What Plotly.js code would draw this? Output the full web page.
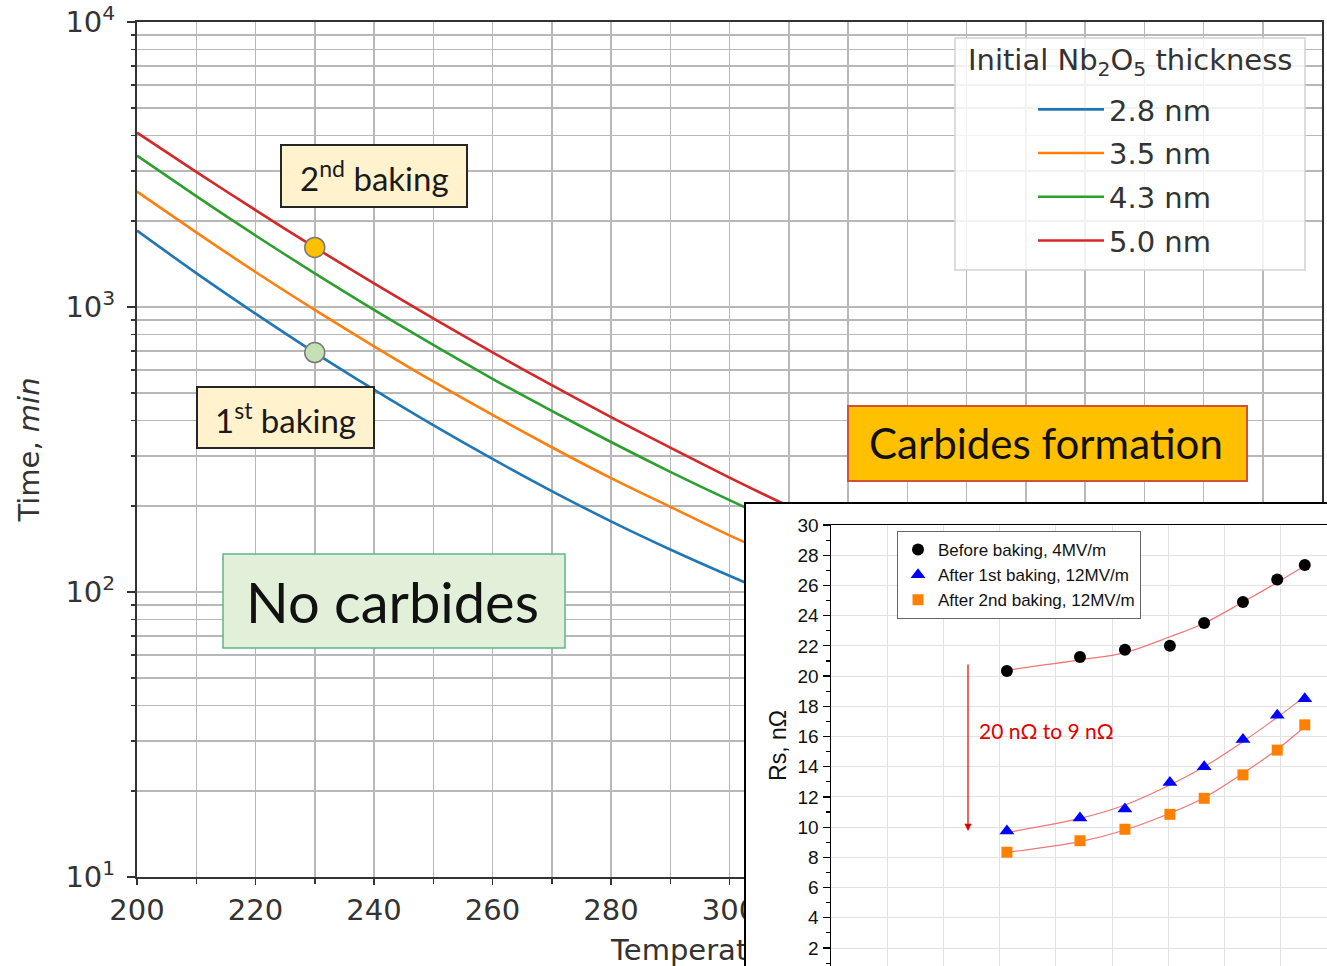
<!DOCTYPE html>
<html><head><meta charset="utf-8">
<script src="https://cdn.plot.ly/plotly-3.0.1.min.js"></script>
<style>html,body{margin:0;padding:0;background:#fff}</style>
</head><body><div id="chart" style="width:1327px;height:966px"></div>
<script>
// ---------- main chart data ----------
const temperatureC = [200, 210, 220, 230, 240, 250, 260, 270, 280, 290, 300, 310, 320];
const thicknessLabels = ['2.8 nm', '3.5 nm', '4.3 nm', '5.0 nm'];
const time28 = [1854, 1315, 948, 692, 513, 385, 293, 226, 177, 141, 114, 93, 77];
const time35 = [2541, 1828, 1327, 977, 728, 548, 418, 322, 251, 199, 158, 128, 105];
const time43 = [3396, 2449, 1782, 1312, 977, 736, 560, 432, 336, 264, 210, 169, 138];
const time50 = [4093, 2979, 2188, 1618, 1211, 912, 693, 532, 411, 321, 252, 200, 161];
const bakingT = [230, 230];
const bakingTime = [1618, 692];
const bakingColors = ['#FFC000', '#C5E0B4'];
const yTickVals = [10, 100, 1000, 10000];
const yTickText = ['10<sup>1</sup>', '10<sup>2</sup>', '10<sup>3</sup>', '10<sup>4</sup>'];

// ---------- inset data ----------
const insetX = [3.13, 4.43, 5.23, 6.03, 6.64, 7.33, 7.94, 8.43];
const rsBefore = [20.34, 21.27, 21.74, 22.0, 23.52, 24.9, 26.4, 27.35];
const rsAfter1 = [9.75, 10.6, 11.2, 12.95, 14.0, 15.8, 17.4, 18.5];
const rsAfter2 = [8.34, 9.1, 9.86, 10.85, 11.91, 13.46, 15.1, 16.77];
const fitBefore = [20.4, 21.07, 21.55, 22.6, 23.5, 24.9, 26.2, 27.3];
const fitAfter1 = [9.65, 10.58, 11.47, 12.79, 14.0, 15.66, 17.27, 18.64];
const fitAfter2 = [8.33, 9.04, 9.81, 10.92, 11.95, 13.56, 15.15, 16.65];
const insetNames = ['Before baking, 4MV/m', 'After 1st baking, 12MV/m', 'After 2nd baking, 12MV/m'];

const W = 1327, H = 966;
const px = x => x / W;
const py = y => 1 - y / H;

const lineColors = ['#1f77b4', '#ff7f0e', '#2ca02c', '#d62728'];
const series = [time28, time35, time43, time50];

const traces = [];
series.forEach((s, i) => {
  traces.push({
    type: 'scatter', mode: 'lines', x: temperatureC, y: s, name: thicknessLabels[i],
    xaxis: 'x', yaxis: 'y', legend: 'legend', legendgroup: 'g' + i,
    line: {color: lineColors[i], width: 2.6, shape: 'spline', smoothing: 0.8}, hoverinfo: 'skip'
  });
});
traces.push({
  type: 'scatter', mode: 'markers', x: bakingT, y: bakingTime, xaxis: 'x', yaxis: 'y',
  showlegend: false, hoverinfo: 'skip',
  marker: {size: 20, color: bakingColors, line: {color: '#7a7a7a', width: 1.5}}
});
// overlay axis carrying the x-axis title (so the inset panel can cover it)
traces.push({type: 'scatter', x: [], y: [], xaxis: 'x4', yaxis: 'y', showlegend: false});
// white inset panel
traces.push({type: 'scatter', x: [], y: [], xaxis: 'x2', yaxis: 'y2', showlegend: false});
// inset fits
[fitBefore, fitAfter1, fitAfter2].forEach(f => {
  traces.push({
    type: 'scatter', mode: 'lines', x: insetX, y: f, xaxis: 'x3', yaxis: 'y3',
    showlegend: false, hoverinfo: 'skip',
    line: {color: '#f07575', width: 1.2, shape: 'spline', smoothing: 1}
  });
});
const insetSeries = [rsBefore, rsAfter1, rsAfter2];
const insetSymbols = ['circle', 'triangle-up', 'square'];
const insetColors = ['#000000', '#0000ff', '#ff8000'];
const insetSizes = [12, 13, 11];
insetSeries.forEach((s, i) => {
  traces.push({
    type: 'scatter', mode: 'markers', x: insetX, y: s, name: insetNames[i],
    xaxis: 'x3', yaxis: 'y3', legend: 'legend2', hoverinfo: 'skip',
    marker: {symbol: insetSymbols[i], color: insetColors[i], size: insetSizes[i]}
  });
});

const minorY = [];
for (let d = 10; d < 10000; d *= 10) for (let k = 2; k <= 9; k++) minorY.push(k * d);

const gridC = '#b8b8b8';
const mainFont = 29;
const layout = {
  width: W, height: H, margin: {l: 0, r: 0, t: 0, b: 0},
  paper_bgcolor: '#ffffff', plot_bgcolor: '#ffffff',
  font: {family: 'DejaVu Sans', color: '#333'},
  xaxis: {
    domain: [px(137), px(1322)], range: [200, 400], anchor: 'y',
    tickmode: 'linear', tick0: 200, dtick: 20, ticks: 'outside', ticklen: 6, tickwidth: 1.5, tickcolor: '#333',
    showline: true, linecolor: '#333', linewidth: 2, mirror: true,
    showgrid: true, gridcolor: gridC, gridwidth: 1.5, zeroline: false,
    tickfont: {size: mainFont, color: '#333'},
    minor: {tick0: 200, dtick: 10, ticks: 'outside', ticklen: 5, tickcolor: '#333', showgrid: true, gridcolor: gridC, gridwidth: 1.5}
  },
  xaxis4: {
    overlaying: 'x', anchor: 'y', range: [200, 400], tickmode: 'array', tickvals: [300],
    ticktext: ['Temperature, <i>°C</i>'], ticks: '', showgrid: false, showline: false, zeroline: false,
    tickfont: {size: mainFont, color: '#333'}, ticklabelstandoff: 53
  },
  yaxis: {
    domain: [py(877), py(22)], type: 'log', range: [1, 4], anchor: 'x',
    tickmode: 'array', tickvals: yTickVals, ticktext: yTickText,
    ticks: 'outside', ticklen: 8, tickwidth: 1.5, tickcolor: '#333', ticklabelstandoff: 6,
    showline: true, linecolor: '#333', linewidth: 2, mirror: true,
    showgrid: true, gridcolor: gridC, gridwidth: 1.5, zeroline: false,
    tickfont: {size: mainFont, color: '#333'},
    minor: {tickmode: 'array', tickvals: minorY, ticks: 'outside', ticklen: 4, tickcolor: '#333', showgrid: true, gridcolor: gridC, gridwidth: 1.5},
    title: {text: 'Time, <i>min</i>', standoff: 17, font: {size: mainFont, color: '#333'}}
  },
  xaxis2: {domain: [px(745), 1], range: [0, 1], anchor: 'y2', visible: false},
  yaxis2: {domain: [0, py(503)], range: [0, 1], anchor: 'x2', visible: false},
  xaxis3: {
    domain: [px(831), 1], range: [0, (1327 - 831) / 56.2], anchor: 'y3',
    tickmode: 'linear', tick0: 0, dtick: 1, showticklabels: false, ticks: '',
    showline: true, mirror: true, linecolor: '#000', linewidth: 1.5,
    showgrid: true, gridcolor: '#e2e2e2', gridwidth: 1, zeroline: false
  },
  yaxis3: {
    domain: [0, py(525)], range: [0.8085, 30], anchor: 'x3',
    tickmode: 'linear', tick0: 0, dtick: 2, ticks: 'outside', ticklen: 7, tickwidth: 1.2, tickcolor: '#000',
    showline: true, linecolor: '#000', linewidth: 1.5,
    showgrid: true, gridcolor: '#e2e2e2', gridwidth: 1, zeroline: false,
    tickfont: {family: 'Liberation Sans', size: 19, color: '#111'},
    minor: {dtick: 1, ticks: 'outside', ticklen: 4, tickcolor: '#000', showgrid: false},
    title: {text: 'Rs, nΩ', standoff: 4, font: {family: 'Liberation Sans', size: 23, color: '#111'}}
  },
  legend: {
    x: px(1033), xanchor: 'left', y: py(84), yanchor: 'top',
    bgcolor: 'rgba(0,0,0,0)', borderwidth: 0,
    font: {family: 'DejaVu Sans', size: mainFont, color: '#333'},
    traceorder: 'grouped', tracegroupgap: 3, itemwidth: 66
  },
  legend2: {
    x: px(897), xanchor: 'left', y: py(531), yanchor: 'top',
    bgcolor: '#ffffff', bordercolor: '#666', borderwidth: 1, traceorder: 'normal',
    font: {family: 'Liberation Sans', size: 17, color: '#111'}
  },
  shapes: [
    {type: 'rect', xref: 'paper', yref: 'paper', x0: px(955), x1: px(1305), y0: py(270), y1: py(38), fillcolor: 'rgba(255,255,255,0.82)', line: {color: '#d2d2d2', width: 1.5}, layer: 'above'},
    {type: 'rect', xref: 'paper', yref: 'paper', x0: px(281), x1: px(467), y0: py(207), y1: py(145), fillcolor: '#FFF2CC', line: {color: '#262626', width: 2}, layer: 'above'},
    {type: 'rect', xref: 'paper', yref: 'paper', x0: px(197), x1: px(374), y0: py(448), y1: py(387), fillcolor: '#FFF2CC', line: {color: '#262626', width: 2}, layer: 'above'},
    {type: 'rect', xref: 'paper', yref: 'paper', x0: px(223), x1: px(565), y0: py(648), y1: py(554), fillcolor: '#E2F0D9', line: {color: '#5cb886', width: 1.5}, layer: 'above'},
    {type: 'rect', xref: 'paper', yref: 'paper', x0: px(848), x1: px(1247), y0: py(481), y1: py(406), fillcolor: '#FFC000', line: {color: '#d0503a', width: 2}, layer: 'above'},
    {type: 'rect', xref: 'paper', yref: 'paper', x0: px(745), x1: px(1340), y0: py(980), y1: py(503), fillcolor: 'rgba(0,0,0,0)', line: {color: '#000', width: 2}, layer: 'above'}
  ],
  annotations: [
    {xref: 'paper', yref: 'paper', x: px(1130), y: py(62), xanchor: 'center', yanchor: 'middle', text: 'Initial Nb<sub>2</sub>O<sub>5</sub> thickness', showarrow: false, font: {family: 'DejaVu Sans', size: mainFont, color: '#333'}},
    {xref: 'paper', yref: 'paper', x: px(374), y: py(176), xanchor: 'center', yanchor: 'middle', text: '2<sup>nd</sup> baking', showarrow: false, font: {family: 'Lato', size: 33, color: '#1a1a1a'}},
    {xref: 'paper', yref: 'paper', x: px(285.5), y: py(418), xanchor: 'center', yanchor: 'middle', text: '1<sup>st</sup> baking', showarrow: false, font: {family: 'Lato', size: 33, color: '#1a1a1a'}},
    {xref: 'paper', yref: 'paper', x: px(392), y: py(601), xanchor: 'center', yanchor: 'middle', text: 'No carbides', showarrow: false, font: {family: 'Lato', size: 56, color: '#111'}},
    {xref: 'paper', yref: 'paper', x: px(1046), y: py(443), xanchor: 'center', yanchor: 'middle', text: 'Carbides formation', showarrow: false, font: {family: 'Lato', size: 42, color: '#111'}},
    {xref: 'paper', yref: 'paper', x: px(977), y: py(730), xanchor: 'left', yanchor: 'middle', text: '20 nΩ to 9 nΩ', showarrow: false, font: {family: 'Lato', size: 21, color: '#e00000'}},
    {xref: 'paper', yref: 'paper', x: px(968), y: py(831), text: '', showarrow: true, ax: 0, ay: -168,
     arrowcolor: '#e00000', arrowwidth: 1.2, arrowhead: 2, arrowsize: 1.2, standoff: 0}
  ]
};

Plotly.newPlot('chart', traces, layout, {staticPlot: true});
</script>
</body></html>
